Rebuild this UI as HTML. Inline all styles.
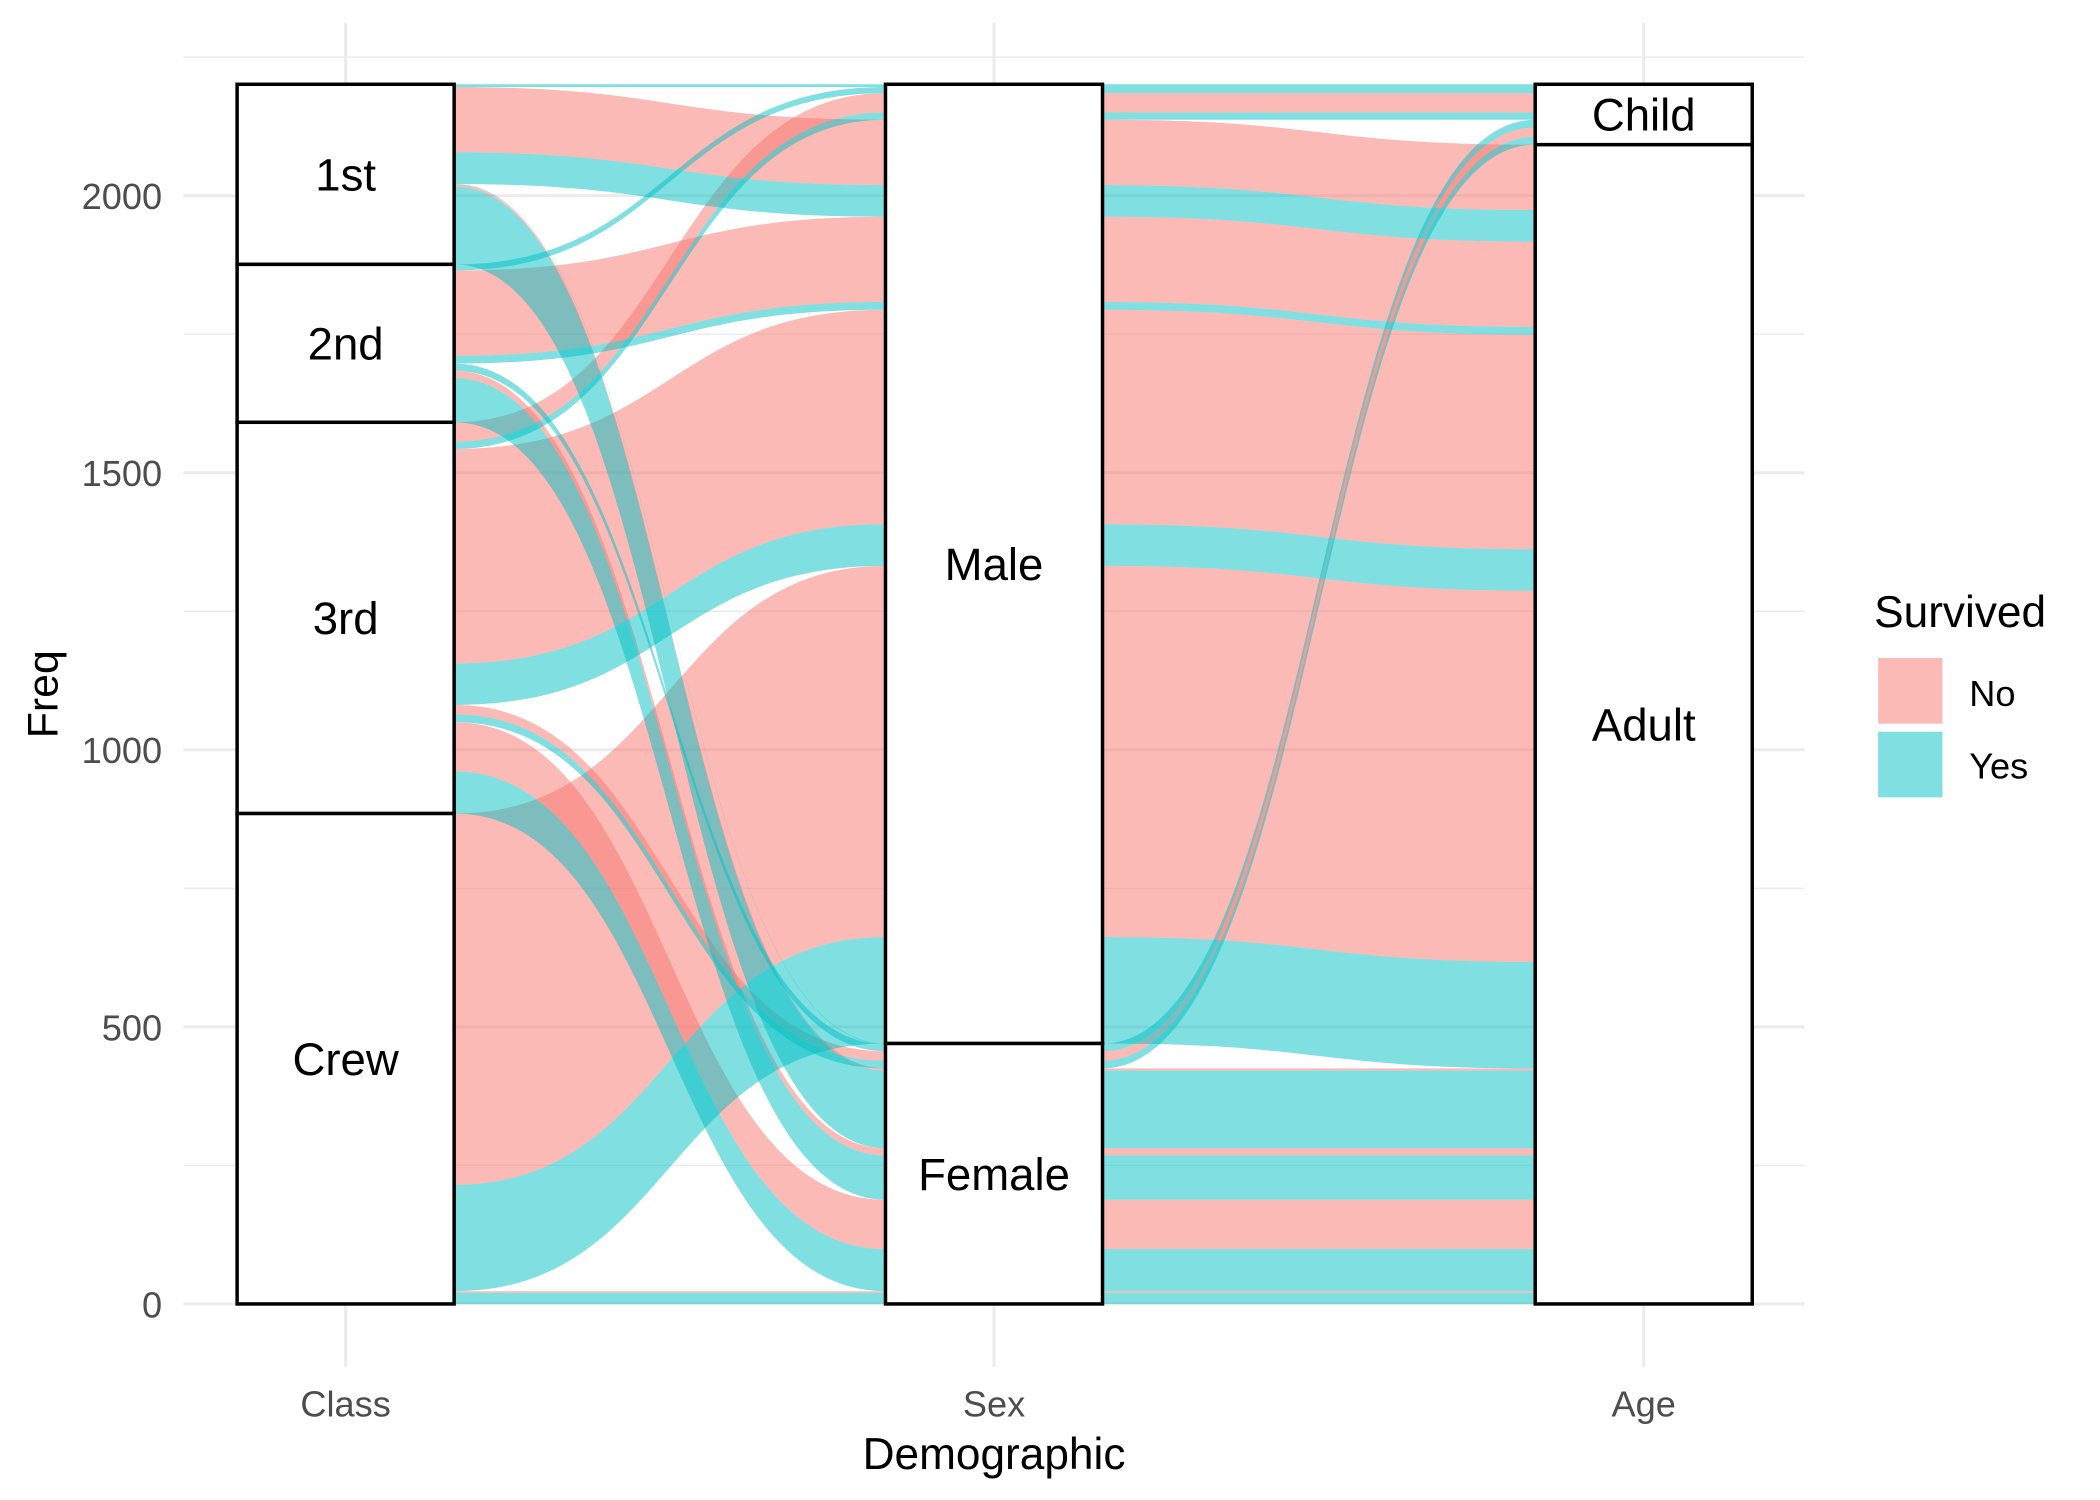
<!DOCTYPE html>
<html><head><meta charset="utf-8"><style>
html,body{margin:0;padding:0;background:#fff;}
svg{display:block;font-family:"Liberation Sans",Arial,sans-serif;}
</style></head><body>
<svg id="chart" width="2100" height="1500" viewBox="0 0 1567.6 1119.3" preserveAspectRatio="none" xmlns="http://www.w3.org/2000/svg">
<g id="grid"></g>
<g id="flows"></g>
<g id="strata"></g>
<g id="axes"></g>
<text x="43" y="518" font-size="32" text-anchor="middle" transform="rotate(-90 43 518)">Freq</text>
<text x="742" y="1096" font-size="33" text-anchor="middle">Demographic</text>
<g>
<text x="1399" y="468" font-size="33">Survived</text>
<rect x="1402" y="491" width="48" height="49" fill="#FBBAB6"/>
<rect x="1402" y="546" width="48" height="49" fill="#7FDFE1"/>
<text x="1470" y="527" font-size="27">No</text>
<text x="1470" y="581" font-size="27">Yes</text>
</g>
</svg>
<script>
const classes = ["1st","2nd","3rd","Crew"];
const sexes = ["Male","Female"];
const ages = ["Child","Adult"];
const survived = ["No","Yes"];
const axisNames = ["Class","Sex","Age"];
const yTicks = [0,500,1000,1500,2000];
const rowClass = [0,1,2,3,0,1,2,3,0,1,2,3,0,1,2,3,0,1,2,3,0,1,2,3,0,1,2,3,0,1,2,3];
const rowSex   = [0,0,0,0,1,1,1,1,0,0,0,0,1,1,1,1,0,0,0,0,1,1,1,1,0,0,0,0,1,1,1,1];
const rowAge   = [0,0,0,0,0,0,0,0,1,1,1,1,1,1,1,1,0,0,0,0,0,0,0,0,1,1,1,1,1,1,1,1];
const rowSurv  = [0,0,0,0,0,0,0,0,0,0,0,0,0,0,0,0,1,1,1,1,1,1,1,1,1,1,1,1,1,1,1,1];
const freq = [0,0,35,0,0,0,17,0,118,154,387,670,4,13,89,3,5,11,13,0,1,13,14,0,57,14,75,192,140,80,76,20];

const NS="http://www.w3.org/2000/svg";
const y0px=973, pxPerUnit=(973-146)/2000;
const Y=v=>y0px-v*pxPerUnit;
const axisX=[258,742,1227], halfW=81;
function mk(tag,attrs,parent){const e=document.createElementNS(NS,tag);for(const k in attrs)e.setAttribute(k,attrs[k]);parent.appendChild(e);return e;}

const grid=document.getElementById('grid');
for(let v=0; v<=2250; v+=250){
  const major=v%500===0;
  const l=mk('line',{x1:137,x2:1347,y1:Y(v),y2:Y(v),stroke:'#ebebeb','stroke-width':major?2.2:1.1},grid);
  
  
}
axisX.forEach(x=>{
  const l=mk('line',{x1:x,x2:x,y1:17,y2:1020,stroke:'#ebebeb','stroke-width':2.2},grid);
  
  
});

const total=freq.reduce((a,b)=>a+b,0);
const n=freq.length;
const idx=[...Array(n).keys()];
const strataVar=[rowClass,rowSex,rowAge];
const levels=[classes,sexes,ages];
const sortKeys=[[rowClass,rowSex,rowAge,rowSurv],[rowSex,rowAge,rowClass,rowSurv],[rowAge,rowSex,rowClass,rowSurv]];
const lodeTop=[],lodeBot=[],strataBounds=[];
for(let a=0;a<3;a++){
  const ord=idx.slice().sort((i,j)=>{for(const k of sortKeys[a]){if(k[i]!==k[j])return k[i]-k[j];}return i-j;});
  let cum=total; lodeTop[a]=[];lodeBot[a]=[];
  ord.forEach(i=>{lodeTop[a][i]=cum;cum-=freq[i];lodeBot[a][i]=cum;});
  let c=total; strataBounds[a]=levels[a].map((lv,s)=>{let sum=0;for(let i=0;i<n;i++)if(strataVar[a][i]===s)sum+=freq[i];const b={name:lv,top:c,bot:c-sum};c-=sum;return b;});
}

const flows=document.getElementById('flows');
const fills=['#F8766D','#00BFC4'];
for(let i=0;i<n;i++){
  if(freq[i]<=0)continue;
  for(let a=0;a<2;a++){
    const x0=axisX[a]+halfW, x1=axisX[a+1]-halfW, xm=(x0+x1)/2;
    const t0=Y(lodeTop[a][i]),b0=Y(lodeBot[a][i]),t1=Y(lodeTop[a+1][i]),b1=Y(lodeBot[a+1][i]);
    const d=`M${x0-halfW},${t0} L${x0},${t0} C${xm},${t0} ${xm},${t1} ${x1},${t1} L${x1+halfW},${t1} L${x1+halfW},${b1} L${x1},${b1} C${xm},${b1} ${xm},${b0} ${x0},${b0} L${x0-halfW},${b0} Z`;
    const p=mk('path',{d:d,fill:fills[rowSurv[i]],'fill-opacity':0.5},flows);
    
    
  }
}

const strata=document.getElementById('strata');
for(let a=0;a<3;a++){
  strataBounds[a].forEach(b=>{
    const r=mk('rect',{x:axisX[a]-halfW,y:Y(b.top),width:2*halfW,height:Y(b.bot)-Y(b.top),fill:'#fff',stroke:'#000','stroke-width':2.6},strata);
    
    
    const t=mk('text',{x:axisX[a],y:(Y(b.top)+Y(b.bot))/2+12,'font-size':34,'text-anchor':'middle'},strata);
    t.textContent=b.name;
    
    
  });
}

const axes=document.getElementById('axes');
yTicks.forEach(v=>{
  const t=mk('text',{x:121,y:Y(v)+10,'font-size':27,'text-anchor':'end',fill:'#4d4d4d'},axes);
  t.textContent=v;
  
  
});
axisNames.forEach((nm,a)=>{
  const t=mk('text',{x:axisX[a],y:1057,'font-size':27,'text-anchor':'middle',fill:'#4d4d4d'},axes);
  t.textContent=nm;
  
  
});
</script>
</body></html>
